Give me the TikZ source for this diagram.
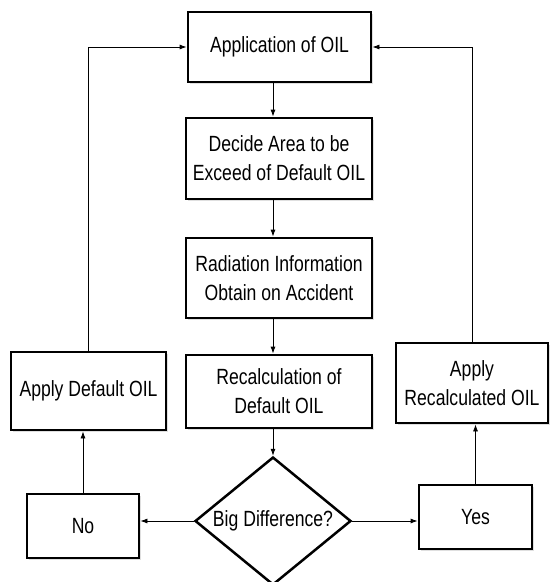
\documentclass[tikz,border=0pt]{standalone}
\usepackage{fontspec}
\setmainfont[FakeStretch=0.8]{Liberation Sans}
\usetikzlibrary{shapes.geometric,arrows.meta,shadows}

\begin{document}
\begin{tikzpicture}[x=1pt,y=-1pt,
    box/.style={draw, line width=2.8pt, fill=white, align=center, inner sep=0pt,
      font=\fontsize{22}{29}\selectfont,
      drop shadow={opacity=0.25, shadow xshift=1.5pt, shadow yshift=-1.5pt}},
    arr/.style={-{Latex[length=7pt,width=5pt]}, line width=0.8pt}]

      \useasboundingbox (0,0) rectangle (550,582);

      % Main column
      \node[box, minimum width=183pt, minimum height=70pt] (app) at (279.5,47) {Application of OIL};
      \node[box, minimum width=186pt, minimum height=81pt] (dec) at (279,158.5) {Decide Area to be\\Exceed of Default OIL};
      \node[box, minimum width=186pt, minimum height=80pt] (rad) at (279,278) {Radiation Information\\Obtain on Accident};
      \node[box, minimum width=186pt, minimum height=73pt] (rec) at (279,391.5) {Recalculation of\\Default OIL};

      % Decision
      \node[draw, diamond, aspect=1.22, line width=2.5pt, fill=white, inner sep=0pt,
        minimum width=156pt, minimum height=128pt,
        font=\fontsize{22}{29}\selectfont] (dia) at (273,521) {Big Difference?};

      % Side boxes
      \node[box, minimum width=155pt, minimum height=78pt] (adef) at (88.5,391) {Apply Default OIL};
      \node[box, minimum width=152pt, minimum height=80pt] (arec) at (472,383) {Apply\\Recalculated OIL};
      \node[box, minimum width=112pt, minimum height=64pt] (no) at (83,526) {No};
      \node[box, minimum width=113pt, minimum height=64pt] (yes) at (475.5,517) {Yes};

      % Main flow
      \draw[arr] (app.south -| dia.north) -- (dec.north -| dia.north);
      \draw[arr] (dec.south -| dia.north) -- (rad.north -| dia.north);
      \draw[arr] (rad.south -| dia.north) -- (rec.north -| dia.north);
      \draw[arr] (rec.south -| dia.north) -- (dia.north);

      % Branches
      \draw[arr] (dia.west) -- (dia.west -| no.east);
      \draw[arr] (dia.east) -- (dia.east -| yes.west);
      \draw[arr] (no.north) -- (no.north |- adef.south);
      \draw[arr] (yes.north) -- (yes.north |- arec.south);

      % Back to start
      \draw[arr] (adef.north) |- (app.west);
      \draw[arr] (arec.north) |- (app.east);

    \end{tikzpicture}
\end{document}
